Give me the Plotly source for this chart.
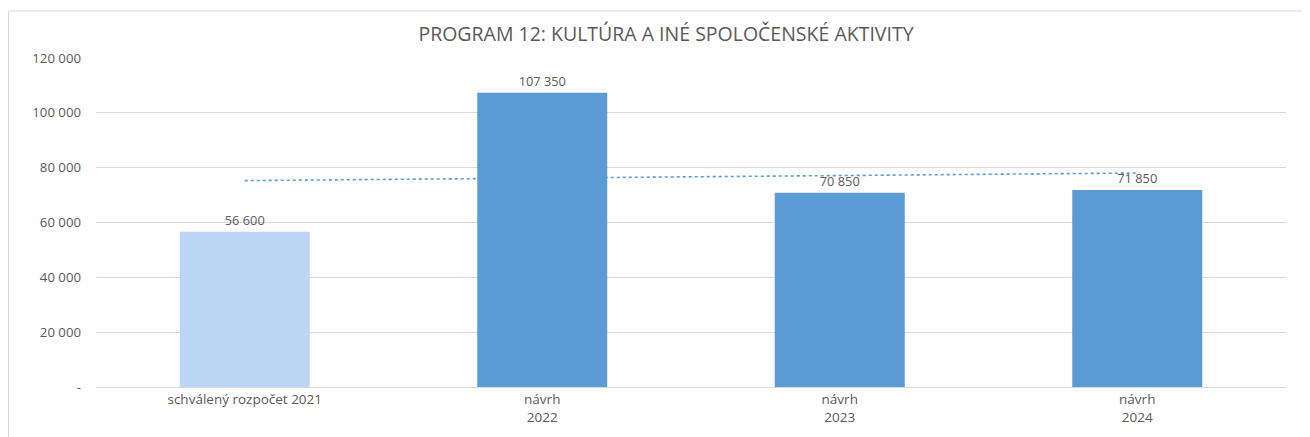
import numpy as np
import plotly.graph_objects as go

categories = ["schválený rozpočet 2021", "návrh<br>2022", "návrh<br>2023", "návrh<br>2024"]
values = [56600, 107350, 70850, 71850]
value_labels = ["56 600", "107 350", "70 850", "71 850"]
bar_colors = ["#bdd5f5", "#5b9bd5", "#5b9bd5", "#5b9bd5"]
y_tickvals = [0, 20000, 40000, 60000, 80000, 100000, 120000]
y_ticktext = ["-", "20 000", "40 000", "60 000", "80 000", "100 000", "120 000"]
title_text = "PROGRAM 12: KULTÚRA A INÉ SPOLOČENSKÉ AKTIVITY"

# linear trendline (least squares) computed from the data
idx = np.arange(len(values))
slope, intercept = np.polyfit(idx, values, 1)
trend = (slope * idx + intercept).tolist()

fig = go.Figure()
fig.add_trace(go.Scatter(
    x=categories, y=trend, mode="lines",
    line=dict(color="#5b9bd5", width=1.6, dash="dot"),
    hoverinfo="skip", showlegend=False,
))
fig.add_trace(go.Bar(
    x=categories, y=values,
    marker=dict(color=bar_colors, line=dict(width=0)),
    width=0.437,
    text=value_labels, textposition="outside",
    textfont=dict(size=12.8, color="#595959"),
    cliponaxis=False, showlegend=False,
))

# page has an 8px body margin; figure sized/offset to compensate
OFF = 8
W, H = 1310 - OFF, 437 - OFF
ml, mr, mt, mb = 96 - OFF, 24, 58 - OFF, 50
pw, ph = W - ml - mr, H - mt - mb

fig.update_layout(
    width=W, height=H,
    margin=dict(l=ml, r=mr, t=mt, b=mb),
    paper_bgcolor="white", plot_bgcolor="white",
    font=dict(family="Open Sans, sans-serif", size=13, color="#595959"),
    title=dict(text=title_text, xref="paper", x=(666 - 96) / pw, xanchor="center",
               yref="container", y=1 - (34 - OFF) / H, yanchor="middle",
               font=dict(size=19.5, color="#595959")),
    xaxis=dict(showgrid=False, showline=True, linecolor="#d9d9d9", linewidth=1,
               ticks="", tickfont=dict(size=13.5, color="#595959")),
    yaxis=dict(range=[0, 120000], tickvals=y_tickvals, ticktext=y_ticktext,
               showgrid=True, gridcolor="#d9d9d9", gridwidth=1,
               zeroline=False, showline=False, ticks="",
               ticklabelstandoff=14,
               tickfont=dict(size=13.2, color="#595959")),
    shapes=[dict(type="rect", xref="paper", yref="paper",
                 x0=(0.5 - ml) / pw, x1=(W + 20 - ml) / pw,
                 y0=-(mb + 20) / ph, y1=(H - mb - (11 - OFF)) / ph,
                 line=dict(color="#d9d9d9", width=1), layer="below")],
)

fig.write_html("out.html")
